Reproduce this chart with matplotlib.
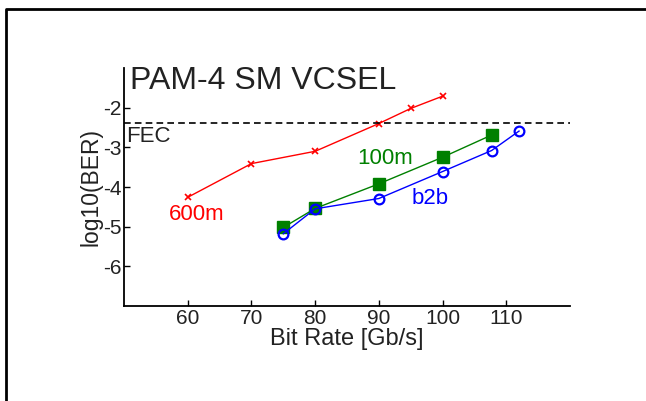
import matplotlib
matplotlib.use('Agg')
import matplotlib.pyplot as plt
from matplotlib.lines import Line2D

plt.rcParams['font.family'] = ['Liberation Sans', 'DejaVu Sans']
plt.rcParams['axes.unicode_minus'] = False

# ── Dados ─────────────────────────────────────────────────────────────────────
rate_600m = [60, 70, 80, 90, 95, 100]
ber_600m = [-4.26, -3.41, -3.10, -2.40, -2.02, -1.71]

rate_100m = [75, 80, 90, 100, 107.7]
ber_100m = [-5.02, -4.54, -3.92, -3.25, -2.69]

rate_b2b = [75, 80, 90, 100, 107.7, 112]
ber_b2b = [-5.18, -4.55, -4.29, -3.61, -3.08, -2.59]

fec_level = -2.39
xticks = [60, 70, 80, 90, 100, 110]
yticks = [-6, -5, -4, -3, -2]

# ── Figura ────────────────────────────────────────────────────────────────────
fig = plt.figure(figsize=(6.46, 4.01), dpi=100)
ax = fig.add_axes([124/646, 1 - 306/401, (570-124)/646, (306-68)/401])

ax.plot(rate_600m, ber_600m, color='#ff0000', marker='x', ms=5, mew=1.2, lw=1)
ax.plot(rate_100m, ber_100m, color='#008000', marker='s', ms=8, lw=1)
ax.plot(rate_b2b, ber_b2b, color='#0000ff', marker='o', ms=7, mfc='none',
        mew=1.6, lw=1)
ax.axhline(fec_level, color='black', linestyle=(0, (4, 2.5)), lw=1.2)

ax.set_xlim(50, 120)
ax.set_ylim(-7, -1)
ax.set_xticks(xticks)
ax.set_yticks(yticks)
ax.spines['top'].set_visible(False)
ax.spines['right'].set_visible(False)
for s in ('left', 'bottom'):
    ax.spines[s].set_linewidth(1.3)
ax.tick_params(direction='in', length=4, width=1, labelsize=15,
               labelcolor='#222222', pad=2)

ax.set_xlabel('Bit Rate [Gb/s]', fontsize=17, color='#222222', labelpad=0)
ax.set_ylabel('log10(BER)', fontsize=16.5, color='#222222', labelpad=0)

ax.text(50.95, -1.53, 'PAM-4 SM VCSEL', fontsize=23, color='#222222',
        va='baseline', ha='left')
ax.text(50.3, -2.45, 'FEC', fontsize=16, color='#222222', va='top', ha='left')
ax.text(91.0, -3.27, '100m', fontsize=16, color='#008000', va='center', ha='center')
ax.text(98.1, -4.3, 'b2b', fontsize=16, color='#0000ff', va='center', ha='center')
ax.text(61.4, -4.7, '600m', fontsize=16, color='#ff0000', va='center', ha='center')

# moldura recortada (topo e esquerda)
fig.add_artist(Line2D([6/646, 6/646, 1], [0, 1 - 9/401, 1 - 9/401],
                      transform=fig.transFigure, color='black', lw=2))

fig.savefig('out.png', dpi=100)
